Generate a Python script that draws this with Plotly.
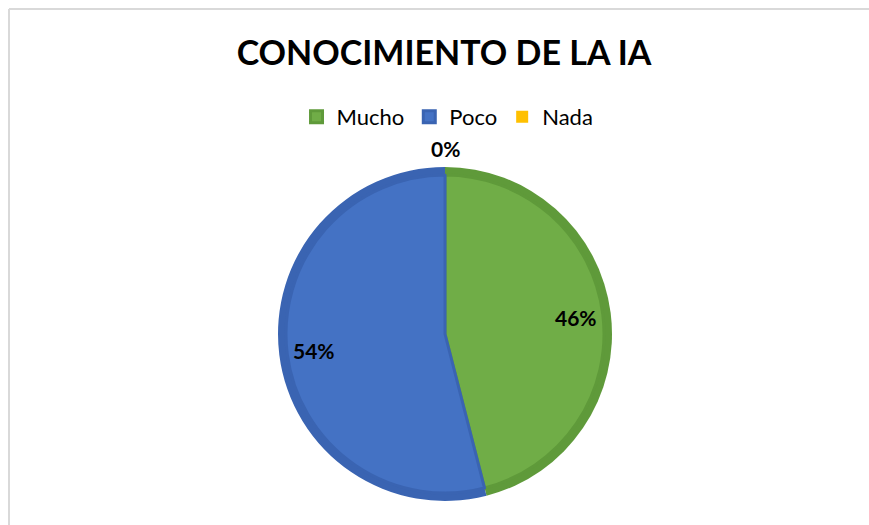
import math
import plotly.graph_objects as go

W, H = 869, 525

categorias = ["Mucho", "Poco", "Nada"]
porcentajes = [46, 54, 0]
etiquetas = ["46%", "54%", "0%"]

colores = ["#70AD47", "#4472C4", "#FFC000"]
bordes = ["#5F9A3A", "#3A64B2", "#E0A800"]

# pie geometry in pixels
cx, cy, r = 445, 334, 167
ring = 8


def dom(rad):
    return dict(x=[(cx - rad) / W, (cx + rad) / W],
                y=[(H - cy - rad) / H, (H - cy + rad) / H])


fig = go.Figure()

# darker outer ring
fig.add_trace(go.Pie(
    labels=categorias, values=porcentajes, sort=False, direction="clockwise",
    domain=dom(r), marker=dict(colors=bordes, line=dict(width=0)),
    textinfo="none", hoverinfo="skip", showlegend=False,
))

# lighter inner fill
fig.add_trace(go.Pie(
    labels=categorias, values=porcentajes, sort=False, direction="clockwise",
    domain=dom(r - ring),
    marker=dict(colors=colores, line=dict(color=bordes, width=[3, 3, 0])),
    textinfo="none", showlegend=True,
))

# data labels placed at slice mid-angles
total = sum(porcentajes)
acum = 0
for v, t in zip(porcentajes, etiquetas):
    mid = (acum + v / 2) / total * 2 * math.pi
    acum += v
    rr = r * (0.79 if v > 0 else 1.11)
    px = cx + rr * math.sin(mid)
    py = cy - rr * math.cos(mid)
    fig.add_annotation(x=px / W, y=1 - py / H, xref="paper", yref="paper",
                       xanchor="center", yanchor="middle",
                       text="<b>%s</b>" % t, showarrow=False,
                       font=dict(size=21, color="#000000", family="Lato"))

# chart frame (top and left edges visible)
fig.add_shape(type="line", xref="paper", yref="paper", x0=9 / W, x1=1, y0=1 - 9 / H, y1=1 - 9 / H,
              line=dict(color="#D9D9D9", width=2))
fig.add_shape(type="line", xref="paper", yref="paper", x0=9 / W, x1=9 / W, y0=0, y1=1 - 9 / H,
              line=dict(color="#D9D9D9", width=2))

fig.update_layout(
    width=W, height=H,
    margin=dict(l=0, r=0, t=0, b=0),
    paper_bgcolor="white",
    font=dict(family="Lato", color="#000000"),
    title=dict(text="<b>CONOCIMIENTO DE LA IA</b>", x=444 / W, xanchor="center",
               y=1 - 53 / H, yanchor="middle", font=dict(size=34, color="#000000")),
    legend=dict(orientation="h", x=0.515, xanchor="center", y=1 - 117 / H, yanchor="middle",
                font=dict(size=22), itemwidth=30, traceorder="normal"),
)

fig.write_html("out.html", config={"displayModeBar": False},
               post_script="document.body.style.margin='0';")
